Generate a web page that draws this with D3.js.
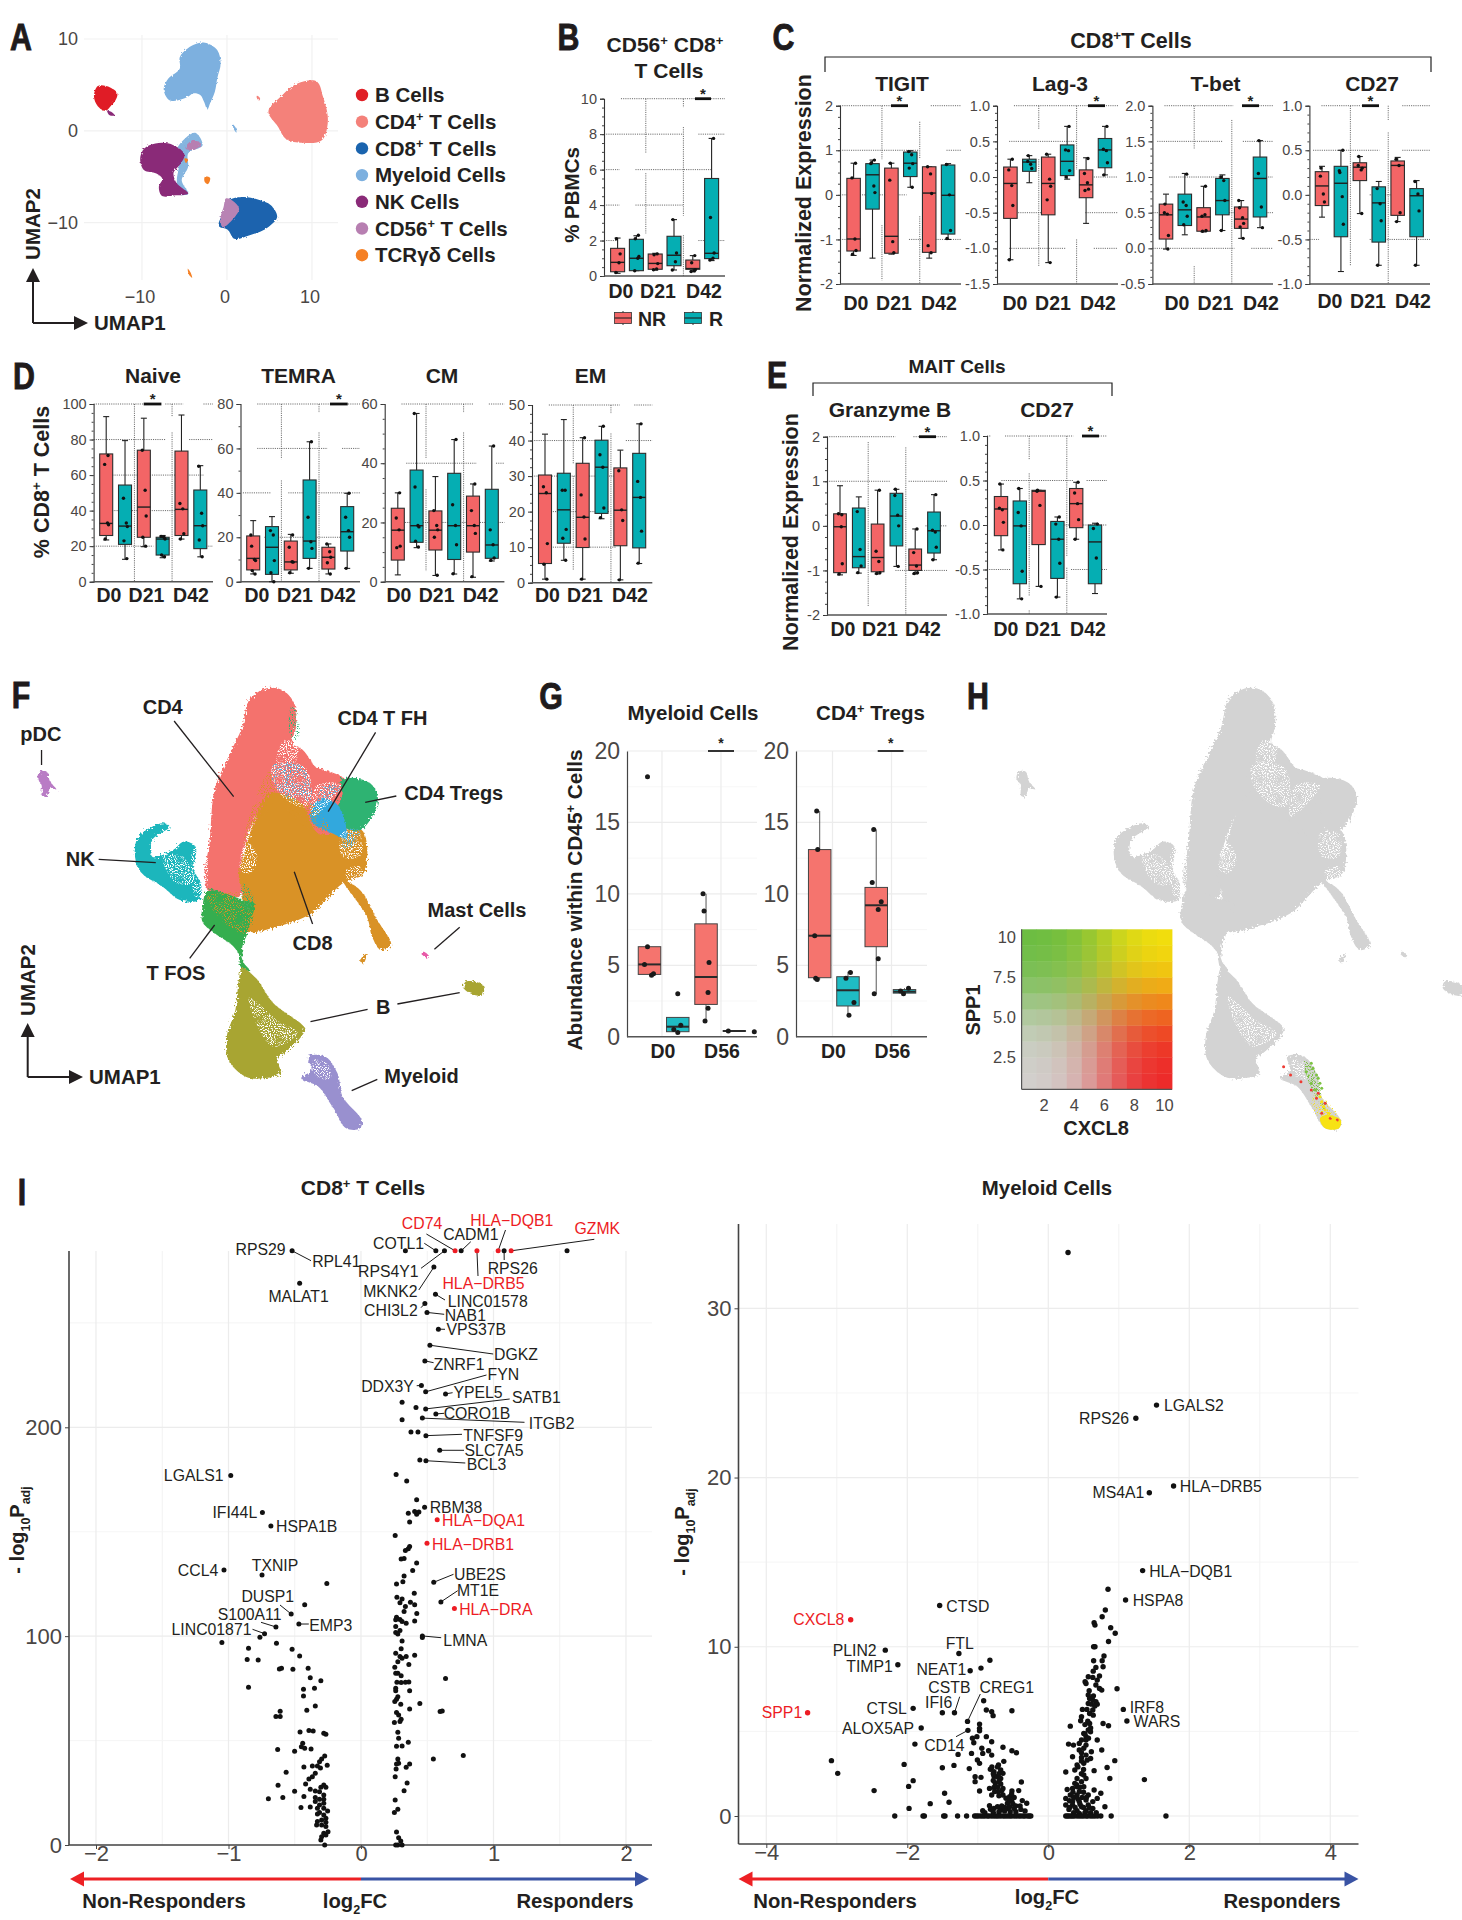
<!DOCTYPE html>
<html><head><meta charset="utf-8">
<script src="https://cdn.jsdelivr.net/npm/d3@7/dist/d3.min.js"></script>
<style>html,body{margin:0;background:#fff}svg{display:block}text{font-family:"Liberation Sans",Arial,sans-serif}</style>
</head><body>
<svg id="fig" width="1462" height="1920" viewBox="0 0 1462 1920"></svg>
<script>
/* ---------- DATA ---------- */
// Box panels: [lowWhisker, q1, median, q3, highWhisker, [points]] for NR/R at D0, D21, D42
const cd56Boxes=[[.15,.24,.77,1.56,2.14,[.2,.75,1.25,2.1]],[.3,.3,1,2.07,2.27,[.3,1,1.1,2.1,2.3]],[.33,.38,.71,1.24,1.28,[.35,.4,.7,1.2,1.25]],[.34,.58,1.17,2.24,3.18,[.34,.8,1.3,3.18]],[.24,.38,.42,.9,1.15,[.25,.3,.35,.75,1.15]],[.87,.98,1.28,5.5,7.76,[.9,1,1.3,3.3,7.76]]];
const tigitBoxes=[[-1.36,-1.26,-.99,.37,.71,[.38,-.99,-1.25,-1.33,.71]],[-1.42,-.32,.45,.7,.78,[.7,.2,.05,.72,.78]],[-1.33,-1.31,-.93,.6,.71,[.33,-1.05,-1.3,.71]],[.17,.41,.71,.96,.99,[.97,.9,.7,.6,.17]],[-1.42,-1.29,.04,.63,.63,[.63,.47,.03,-1.14,-1.3]],[-1,-.88,-.01,.67,.7,[.68,0,-.8,-.98]]];
const lag3Boxes=[[-1.16,-.58,-.09,.14,.25,[.1,-.12,-.4,-1.16,.25]],[-.08,.08,.21,.25,.3,[.22,.18,.12,.3]],[-1.2,-.53,-.09,.28,.32,[.32,-.03,-.13,-.32,-1.2]],[-.03,.02,.22,.45,.71,[.38,.37,.09,0,.71]],[-.65,-.29,-.11,.1,.27,[.05,-.08,-.17,-.19,.26]],[.03,.13,.38,.54,.71,[.39,.37,.2,.03,.71]]];
const tbetBoxes=[[-.01,.13,.47,.62,.76,[.5,.48,.18,.62,-.01]],[.19,.32,.54,.76,1.05,[.65,.6,.45,.33,1.04]],[.23,.24,.44,.57,.87,[.45,.47,.25,.24,.87]],[.25,.47,.67,.98,1.03,[1,.95,.67,.25]],[.14,.28,.41,.58,.67,[.57,.43,.35,.3,.14,.67]],[.29,.44,.98,1.28,1.51,[1.05,.58,.29,1.51]]];
const cd27Boxes=[[-.25,-.12,.1,.26,.32,[.21,.01,-.08,.3]],[-.86,-.47,.13,.32,.5,[.27,-.02,-.33,.25,.5]],[-.21,.16,.31,.36,.43,[.33,.28,.3,.43,-.21]],[-.79,-.53,-.09,.09,.15,[.07,-.1,-.29,-.79]],[-.3,-.23,.33,.38,.42,[.4,.33,-.2,-.3]],[-.79,-.47,-.01,.07,.16,[.15,.01,-.18,-.79]]];
const naiveBoxes=[[23.5,26,32.8,71.9,92.9,[66,33,32,24,71]],[12.6,21,31.3,54.4,79.4,[47,33,31,23,13]],[19.7,25,42,74,92,[74,51.5,37,25,20]],[13.5,15,24,25,26,[25.5,25,24,15,14]],[24,26,40.7,73.5,93.8,[44,41,27,24]],[14,18.6,31.5,51.6,65.3,[65,38.5,31.5,23.5,14]]];
const temraBoxes=[[3.5,5.3,10.5,20.6,27.5,[16,10,9.5,5,3.5,21]],[0,3.3,15.5,24.8,29.3,[23,21,9.5,4,0]],[3.8,5.3,8.9,18.3,21.3,[15.5,9,8.8,4,21]],[6,10.5,18.3,45.8,63,[29,18,15,6,63]],[3.5,5.7,11,15.5,17,[17,13.5,11,8.5,3.5]],[6,13.8,22.5,33.8,39.8,[29,23,20,6,39.8]]];
const cmBoxes=[[2.3,7.3,17.4,24.8,30,[21.5,17.5,12,11.5,30]],[11.5,13.3,18.9,37.7,56.8,[32,19,18.5,13.7,11.7,56.8]],[2.1,10.7,17.4,23.9,35.5,[24,19,17.5,15,2.2]],[2.6,7.5,18.9,36.6,48,[26,19,12.5,2.7,48]],[1.5,10,18.9,28.9,33,[24,19,16.3,1.7,33]],[7,7.9,12.4,31.2,45.8,[17.5,12.5,8,7.2,45.8]]];
const emBoxes=[[1,5.4,25.1,30.3,41.8,[27,25.3,11,5.2,1]],[6.3,11.1,20.5,30.8,45.9,[26,26,15,12.5,6.3]],[1,9.9,18.4,33.6,40.8,[24.7,18.5,12.3,1,40.8]],[18,19.5,32.5,40.1,44,[36,32.5,21,18.3,44]],[.8,10.4,20.4,32.3,37.3,[31.5,20.5,17.5,.8]],[5.4,9.8,24,36.4,44.7,[28.5,24,14.5,5.5,44.7]]];
const gzmbBoxes=[[-1.1,-1.05,-.02,.27,.9,[.27,-.02,-.85,-1.08,.25]],[-1.06,-.94,-.69,.4,.65,[.32,-.53,-.9,-1.05]],[-1.08,-1.03,-.71,.04,.8,[-.57,-.8,-1.05,-1.07,.8]],[-.91,-.45,.22,.73,.82,[.68,.24,0,.82,-.91]],[-1.08,-1,-.88,-.52,-.07,[-.6,-.9,-1.05,-1.07,-.07]],[-.76,-.61,-.11,.31,.7,[-.1,-.14,-.48,-.76,.7]]];
const maitCd27Boxes=[[-.28,-.12,.18,.32,.46,[.19,.17,.03,.46,-.28]],[-.83,-.66,-.01,.27,.41,[.14,-.01,-.52,.41,-.83]],[-.69,-.22,.38,.39,.39,[.38,.22,-.69,.39]],[-.81,-.6,-.16,.04,.09,[.01,-.16,-.43,-.81,.09]],[-.16,-.03,.24,.41,.48,[.36,.24,.06,-.16,.48]],[-.77,-.66,-.19,0,.02,[-.04,-.37,.01]]];
// Panel G: [low, q1, median, q3, high], then points as [value, pixel jitter]
const gMyeloidBoxes=[[4.3,4.36,5.06,6.3,6.3],[.3,.35,.7,1.35,1.35],[1.1,2.26,4.18,7.9,10],[.38,.38,.4,.42,.42]];
const gMyeloidPoints=[[[18.2,-2],[6.3,-2],[5.05,-5],[4.4,4],[4.3,2]],[[3,0],[.8,3],[.5,-4],[.3,0]],[[10,-3],[8.8,-2],[5.2,3],[3.1,2],[2,2],[1.1,-1]],[[.4,-6],[.35,20]]];
const gTregBoxes=[[4,4.13,7.07,13.1,15.8],[1.5,2.15,3.25,4.2,4.55],[3,6.3,9.2,10.45,14.5],[3,3.05,3.15,3.3,3.4]];
const gTregPoints=[[[15.8,-3],[13.1,-2],[7.07,-5],[4.1,-4],[4,-2.5]],[[4.5,2.5],[4.1,-2],[2.4,6],[1.5,1]],[[14.5,-2.5],[10.8,-4],[9.45,5],[8.9,2],[5.45,2],[3,-2]],[[3.4,4],[3.2,-4],[3,-1]]];
// Panel A: cluster outlines in UMAP units
const umapA=[
 ['#f4817a',[[8.3,5.16],[10.6,5.35],[11.3,3.7],[11.85,.8],[11.2,-1],[8.9,-1.3],[6.9,-.85],[6,.44],[4.87,2.07],[6.3,3.7]]],
 ['#7db0df',[[-2.6,9.6],[-1.15,8.8],[-.75,7.35],[-1.15,5.7],[-1.43,4.25],[-2,2.98],[-2.3,2.33],[-2.7,3.16],[-3.15,3.9],[-4,4.07],[-4.6,3.7],[-6.9,3.42],[-7.45,4.6],[-6.9,5.7],[-5.55,6.8],[-5.55,8.05],[-4.6,9]]],
 ['#e01f26',[[-15.2,4.87],[-13.75,4.73],[-12.9,4.07],[-13.2,3.2],[-13.6,2.8],[-14.3,2.18],[-15.2,2.69],[-15.65,3.7]]],
 ['#85b5df',[[-3.72,-.22],[-2.87,-1.56],[-4.58,-2.47],[-4.58,-3.93],[-5.33,-5.38],[-4.58,-6.9],[-5.73,-6.9],[-5.9,-5.38],[-5.73,-3.56],[-6.13,-2.84],[-5.33,-1.2]]],
 ['#8a2a78',[[-8.42,-1.38],[-6.3,-1.56],[-4.99,-2.65],[-5.44,-3.56],[-6.3,-4.65],[-6.02,-5.56],[-4.58,-6.84],[-6.02,-7.02],[-7.74,-7.02],[-8.02,-6.11],[-7.62,-5.2],[-8.31,-4.65],[-9.74,-4.29],[-10.2,-2.84],[-9.74,-1.93]]],
 ['#b77fb1',[[-4,-1],[-3.04,-1.45],[-4,-2.1],[-4.87,-1.93]]],
 ['#1a64ae',[[1.72,-7.2],[3.72,-7.5],[5.16,-8.1],[5.9,-9.38],[4.87,-10.47],[2.58,-11.4],[.86,-11.75],[0,-10.7],[-.86,-10.47],[-.17,-8.47],[.29,-7.56]]],
 ['#b883b4',[[-.17,-7.38],[1.43,-8.47],[.74,-9.56],[-.57,-10.47],[-.74,-9.38],[-.4,-8.3]]],
 ['#f58025',[[-2.6,-5],[-2,-5.1],[-2.3,-5.8],[-2.6,-5.6]]],
 ['#f58025',[[-4.6,-15],[-4.3,-15.4],[-4.1,-16],[-4.5,-15.6]]],
 ['#f58025',[[-5,-3],[-4.6,-3.1],[-4.8,-3.5]]],
 ['#7db0df',[[.7,.7],[1,.4],[1.1,-.2],[.8,.2]]],
 ['#f4817a',[[3.5,3.8],[3.9,3.5],[3.8,3.3],[3.5,3.6]]],
 ['#8a2a78',[[-14.1,2.2],[-13.5,2],[-13.2,1.7],[-13.8,1.7]]]];
const legendA=[['B Cells','#e01f26'],['CD4^{+} T Cells','#f4817a'],['CD8^{+} T Cells','#1a64ae'],['Myeloid Cells','#7db0df'],['NK Cells','#8a2a78'],['CD56^{+} T Cells','#b77fb1'],['TCRγδ Cells','#f58025']];
// Panel F/H: cluster outlines in shared map units
const umapF=[
 ['#f4726d',[[770,55],[815,60],[850,100],[855,170],[845,220],[875,240],[925,305],[1000,340],[1030,340],[950,420],[880,400],[820,330],[780,400],[740,440],[700,560],[700,660],[690,680],[600,660],[590,620],[605,520],[620,360],[660,260],[700,170],[720,90]]],
 ['#f4726d',[[790,280],[900,290],[1010,340],[1010,470],[920,500],[800,420]]],
 ['#d99227',[[780,370],[870,400],[920,490],[1045,480],[1050,610],[990,640],[900,730],[800,770],[715,785],[700,760],[700,660],[690,620],[720,500],[740,440]]],
 ['#d99227',[[990,630],[1040,660],[1090,750],[1130,825],[1100,840],[1075,800],[1060,740]]],
 ['#d99227',[[1060,850],[1050,880],[1040,872]]],
 ['#2db372',[[1030,325],[1075,345],[1092,385],[1075,440],[1040,480],[1000,475],[975,420],[990,370],[985,330]]],
 ['#32a8dd',[[935,385],[980,410],[1000,505],[960,490],[900,455],[900,410]]],
 ['#1bb6bc',[[470,460],[490,470],[440,510],[440,560],[500,540],[530,515],[565,530],[560,600],[580,640],[575,690],[520,690],[470,650],[410,610],[390,560],[400,500]]],
 ['#35ae50',[[600,660],[650,670],[700,690],[735,700],[725,750],[715,790],[700,830],[700,860],[670,825],[620,790],[585,755],[585,710]]],
 ['#35ae50',[[690,840],[705,880],[720,900],[700,900]]],
 ['#a8a532',[[700,895],[740,925],[790,1000],[880,1075],[870,1100],[820,1150],[800,1165],[810,1210],[760,1225],[710,1220],[660,1170],[655,1100],[680,1020],[690,930]]],
 ['#a8a532',[[1345,935],[1395,945],[1395,975],[1370,975],[1340,955]]],
 ['#9990cf',[[890,1160],[940,1160],[975,1210],[990,1280],[1045,1350],[1040,1375],[1000,1375],[960,1310],[920,1250],[870,1225],[900,1200]]],
 ['#b97cc5',[[115,305],[135,305],[145,335],[163,358],[145,355],[135,378],[122,378],[120,345],[108,325]]],
 ['#e85aa8',[[1222,845],[1237,855],[1232,862],[1218,852]]]];
const whitePatches=[[[720,520],[745,570],[720,610],[695,600],[700,540]],[[720,980],[800,1050],[860,1090],[790,1130],[740,1060]],[[470,560],[530,560],[555,640],[510,640]],[[905,1170],[945,1180],[955,1225],[915,1220]],[[790,285],[880,290],[900,370],[885,410],[840,400],[790,340]],[[915,345],[985,345],[950,400],[900,440]],[[985,490],[1040,490],[1040,560],[990,560]],[[820,210],[860,230],[850,280],[800,280]],[[560,530],[590,520],[590,680],[565,680]],[[1000,600],[1040,590],[1040,640],[1010,640]]];
const mixPatches=[
 ['#d99227',[[780,300],[800,370],[740,470],[705,520],[720,440]]],
 ['#d99227',[[810,380],[900,400],[950,480],[880,470]]],
 ['#4ab0df',[[790,285],[870,285],[900,390],[840,390],[790,340]]],
 ['#4ab0df',[[930,350],[985,350],[950,390],[920,400]]],
 ['#2db372',[[840,110],[860,130],[860,210],[840,200]]],
 ['#d99227',[[600,680],[720,680],[715,790],[650,760]]],
 ['#2db372',[[705,640],[735,690],[715,720],[695,690]]],
 ['#4ab0df',[[1000,480],[1040,480],[1020,530],[990,530]]]];
const mapLabels=[['CD4',470,110,'middle',[[503,153],[675,380]]],['CD4 T FH',1105,143,'middle',[[1085,187],[948,425]]],['CD4 Tregs',1168,370,'start',[[1145,378],[1055,397]]],['pDC',118,193,'middle',[[120,240],[120,285]]],['NK',232,567,'middle',[[285,568],[450,578]]],['Mast Cells',1378,720,'middle',[[1328,772],[1255,838]]],['CD8',903,820,'middle',[[850,605],[903,762]]],['T FOS',508,910,'middle',[[620,765],[548,865]]],['B',1107,1012,'middle',[[1062,1018],[897,1055]]],['Myeloid',1110,1218,'start',[[1090,1228],[1016,1262]]]];
const extraMapLine=[[1148,1002],[1328,968]];
// Panel H: regions and cells expressing the markers, in map units
const hGreenPatch=[[940,1170],[975,1210],[990,1280],[1000,1320],[975,1290],[950,1230]];
const hYellowPatch=[[1005,1335],[1045,1350],[1040,1375],[1000,1375],[985,1345]];
const hYellowSpeck=[[975,1270],[1010,1300],[1040,1345],[990,1350],[960,1300]];
const hYellow=[[1020,1340],[1030,1355],[1000,1320],[990,1295],[1010,1330],[1040,1360],[1025,1365],[1005,1350],[985,1280],[995,1310]];
const hGreen=[[960,1180],[975,1215],[985,1240],[965,1195],[980,1225],[990,1255],[972,1260],[960,1240],[1000,1300],[945,1205]];
const hRed=[[1000,1300],[980,1270],[1015,1345],[960,1260],[930,1235],[900,1215],[990,1330],[1035,1350],[880,1190],[975,1285]];
const heatTicksX=[2,4,6,8,10], heatTicksY=[2.5,5,7.5,10];
// Panel I, CD8+ T cells: [log2FC, -log10 Padj]
const cd8Points=[[-.52,284.5],[.335,284.5],[.565,284.5],[.63,284.5],[.756,284.5],[1.08,284.5],[1.555,284.5],[-.463,269],[.55,276.7],[.562,263.7],[.482,259.3],[.498,255],[.584,247],[.52,239.3],[.482,231.8],[.456,220],[.488,217],[.638,216],[.31,212],[.415,209.5],[.488,208.8],[.565,206.4],[.31,203.6],[.463,204.4],[.377,197.8],[.43,197.8],[.49,196],[.594,189],[.444,184.4],[.49,184],[-.983,176.9],[.265,177.4],[.345,174.3],[.42,165.3],[.48,161.7],[.357,158.9],[.405,159.7],[.437,159.4],[.42,158.4],[.367,154.7],[-.744,159.2],[-.68,152.8],[.258,148.2],[.367,142.9],[.335,141],[.357,141.8],[.325,137.2],[.303,136.9],[.42,135],[.39,131.4],[-1.034,131.7],[-.747,129.3],[.325,128.8],[.316,126],[.268,125],[-.258,125.2],[.549,125.8],[.402,120.5],[.271,118.6],[.31,117.8],[.373,116.2],[.405,115],[.603,116.4],[-.425,115],[.294,116],[.335,114.2],[.325,111.8],[-.527,110.6],[.421,110.8],[.268,109],[.294,108],[.262,107.8],[.31,107],[.341,106.2],[.405,107.3],[-.469,105.8],[-.642,104.4],[-.728,101.2],[.262,104.6],[.262,101.7],[.294,102.7],[.278,101],[-.763,99.5],[.463,100.1],[.463,99.3],[-1.05,96.9],[-.638,96.6],[.31,97.7],[-.849,94.2],[-.52,93.7],[.303,94],[.262,91.8],[.294,90.2],[.341,90.2],[.405,90.8],[.278,87.8],[.31,89.4],[-.463,90.5],[-.859,88.8],[-.776,88.6],[.361,86.4],[.255,85.1],[-.616,84.3],[-.6,84.6],[-.514,84.1],[-.399,84.6],[.278,82.2],[.262,82.2],[.303,81],[-.383,80.1],[-.303,78.7],[.638,79.7],[.271,77.9],[.303,77.8],[.335,77.9],[.361,78.1],[-.849,75.5],[-.434,74.6],[-.351,75],[.262,75],[.262,73.9],[.367,73.8],[-.434,71.4],[.278,71],[.268,69.8],[.255,68.7],[.3,67.4],[-.345,66.6],[.444,67.7],[.367,65.1],[-.409,64.5],[.268,63.5],[.284,62.3],[-.61,64],[.597,63.9],[.613,64.2],[-.642,61.5],[-.61,61.5],[.303,60.2],[.294,59.1],[.252,58.6],[-.46,54.1],[-.393,54.8],[-.361,54.6],[-.281,53.5],[-.265,53],[.278,54],[.284,51.1],[.357,49.2],[.31,47.4],[.268,47.3],[-.44,48.7],[-.45,47.1],[-.425,46.3],[-.377,46],[-.629,45.7],[-.501,44.9],[.772,42.8],[.546,41.2],[.278,41.2],[-.274,42.6],[-.297,41.2],[-.313,39.9],[.284,39.1],[.268,38.8],[.367,38.8],[.341,37.2],[-.255,38.2],[-.431,37.4],[-.367,37.8],[-.329,37.8],[-.306,36.9],[.265,36.4],[-.565,34.8],[-.345,34.3],[-.367,32.7],[-.393,31.6],[.258,32.7],[-.418,29.2],[.348,29.7],[-.626,28.6],[-.281,28.7],[-.303,27.6],[-.265,27.6],[-.383,26.7],[-.501,25.7],[.325,26],[-.345,25.9],[-.313,25.5],[-.431,23.2],[-.59,22.7],[-.699,22.2],[-.281,24],[-.345,22.8],[-.313,21.9],[-.281,21.9],[.258,21.6],[-.345,20.8],[-.281,20],[-.313,19.2],[-.453,18],[-.383,18.2],[.278,17.1],[.252,15.6],[-.329,17.6],[-.281,17.6],[-.252,16.3],[-.313,15.6],[-.329,14.9],[-.281,14.4],[-.265,12.8],[-.297,12],[-.329,11.2],[-.265,10.9],[-.335,9.6],[-.297,9.6],[-.265,8.8],[.268,6.2],[-.249,6.4],[-.281,5.6],[-.265,4.8],[-.297,4],[.284,3.5],[.3,1.9],[-.303,2.4],[-.274,0],[.262,0],[.31,0],[.278,0]];
const cd8Red=[[.71,284.5],[.875,284.5],[1.035,284.5],[1.133,284.5],[.575,155.7],[.498,144.5],[.705,113.2]];
// gene, label centre, colour flag, leader start, highlighted point
const cd8Labels=[['RPS29',260.6,1249.3],['RPL41',336.3,1261.7,0,311,1260.7,-.52,284.5],['COTL1',398.5,1243.5,0,424.3,1243.3,.565,284.5],['CD74',422,1223.5,1,426.4,1234,.71,284.5],['CADM1',470.8,1234.3,0,470.8,1241.7,.756,284.5],['HLA−DQB1',511.8,1220,1,505.5,1230,1.035,284.5],['GZMK',597.3,1228.3,1,594.3,1239.3,1.133,284.5],['RPS4Y1',388.3,1271.7,0,421,1268.3,.63,284.5],['RPS26',512.7,1268.3,0,504.2,1260,1.08,284.5],['HLA−DRB5',483.5,1283.3,1,478,1276,.875,284.5],['MALAT1',298.6,1296.7],['MKNK2',390.4,1291.7,0,418.8,1290,.55,276.7],['LINC01578',487.7,1301.7,0,445,1300,.562,263.7],['CHI3L2',390.9,1310,0,421,1307.7,.482,259.3],['NAB1',465.3,1315.7,0,444.2,1314.3,.498,255],['VPS37B',476.3,1329.3,0,445,1329.3,.584,247],['DGKZ',516,1354,0,493.2,1354,.52,239.3],['ZNRF1',459,1364.3,0,433.6,1362.7,.482,231.8],['FYN',503.4,1374.3,0,486.5,1375,.488,217],['DDX3Y',387.5,1386,0,416.7,1385.7,.456,220],['YPEL5',478,1392.3,0,452.6,1392.7,.638,216],['SATB1',536.4,1397.3,0,509.7,1399,.488,208.8],['CORO1B',477,1413.3,0,444.2,1413.3,.565,206.4],['ITGB2',551.6,1423.3,0,524.5,1422.3,.463,204.4],['TNFSF9',493.2,1435,0,462,1434.3,.49,196],['SLC7A5',494,1450.3,0,464,1450.3,.594,189],['BCL3',486.5,1464.3,0,465.3,1463,.49,184],['LGALS1',193.7,1475],['RBM38',456,1507.3],['HLA−DQA1',483.5,1520,1],['IFI44L',234.8,1512.7],['HSPA1B',306.7,1526],['HLA−DRB1',473,1544,1],['CCL4',198,1570],['TXNIP',275,1565],['UBE2S',480,1574.3,0,453.5,1574.3,.549,125.8],['MT1E',478,1590,0,457.7,1590.7,.603,116.4],['HLA−DRA',495.8,1609,1],['DUSP1',267.8,1596.7,0,280,1605,-.527,110.6],['S100A11',249.6,1614.3,0,261,1622.3,-.642,104.4],['EMP3',330.8,1625,0,308.8,1624,-.469,105.8],['LINC01871',211.5,1629,0,252.5,1629.3,-.728,101.2],['LMNA',465.3,1640,0,441.2,1637.7,.463,100.1]];
// Panel I, myeloid cells
const myeloidPoints=[[.28,33.3],[1.535,24.28],[1.242,23.5],[1.777,19.5],[1.433,19.1],[1.338,14.5],[.847,13.4],[1.096,12.76],[-1.541,12.44],[.809,12.17],[.764,11.77],[.65,11.42],[.662,11.28],[.885,11.12],[.949,10.8],[.854,10.31],[.662,10],[.643,10],[-2.312,9.8],[-1.268,9.6],[.79,9.45],[-.828,9.2],[.643,9.17],[.764,9.17],[-2.134,8.94],[-.955,8.74],[.777,8.82],[.675,8.78],[.637,8.56],[-1.108,8.58],[.726,8.27],[.567,8.23],[.631,8.19],[.694,8.03],[.522,7.93],[.535,7.83],[.675,7.74],[.975,7.52],[.726,7.54],[.758,7.44],[.567,7.15],[.586,6.95],[.631,6.85],[.675,6.75],[.567,6.65],[.611,6.61],[.694,6.61],[-.917,6.81],[.484,6.3],[.548,6.3],[.631,6.26],[.586,6.06],[.637,5.96],[.471,5.87],[.459,5.63],[1.064,6.3],[-.879,6.26],[-.803,6.16],[-.783,5.93],[-.516,6.22],[-1.917,6.36],[-1.503,6.1],[-1.331,6.1],[-1.146,5.59],[1.115,5.61],[.586,5.47],[.777,5.47],[.854,5.33],[.312,5.31],[-1.803,5.2],[-.975,5.43],[-.975,5.18],[-.975,5.04],[-1.14,5.06],[.567,5.08],[.599,4.98],[.503,4.88],[.535,4.69],[.471,4.49],[.535,4.49],[.439,4.29],[-1.013,4.69],[-1.076,4.59],[-.879,4.69],[-1.057,4.33],[-.803,4.39],[.694,4.49],[.287,4.25],[.357,4.19],[.535,4.19],[.503,4],[.439,3.9],[-1.892,4.25],[-.643,4.06],[-.943,4],[-.516,3.86],[-.452,3.74],[.758,3.9],[.611,3.8],[.471,3.74],[.535,3.6],[-.847,3.86],[-.803,3.6],[-.93,3.7],[-1.089,3.7],[-1.28,3.64],[.344,3.5],[.471,3.46],[-3.076,3.27],[.943,3.27],[-.631,3.23],[-1.006,3.31],[-.975,3.11],[-2.045,3.05],[-1.338,2.99],[-1.503,2.85],[-.707,3.01],[.408,3.01],[.503,3.11],[.834,2.87],[.376,2.72],[-1.121,2.8],[-.822,2.76],[-.675,2.72],[-.771,2.62],[.65,2.68],[.248,2.6],[-2.987,2.52],[-.771,2.36],[-.643,2.52],[-.726,2.32],[-.675,2.22],[-1.038,2.32],[-.955,2.28],[.503,2.42],[.535,2.22],[.873,2.22],[.408,2.22],[.471,2.03],[.376,1.93],[1.363,2.15],[-1.917,2.09],[-1.981,1.75],[-.382,2.01],[-1.038,2.03],[-.752,1.93],[-.675,1.89],[-.771,1.69],[-.643,1.63],[-.834,1.63],[.408,1.73],[.344,1.63],[.503,1.73],[.65,1.54],[.268,1.57],[-2.471,1.5],[-.975,1.48],[-.707,1.44],[-.516,1.48],[-.42,1.5],[-1.471,1.34],[.745,1.34],[.567,1.24],[.408,1.24],[.312,1.24],[.248,1.04],[-.803,1.24],[-.643,1.24],[-.548,1.14],[-.484,1.1],[-1.408,.81],[-1.675,.73],[-.369,.91],[-.306,.75],[-.516,.85],[-.58,.75],[.694,1.04],[.535,.94],[.631,.85],[.439,.85],[.344,.85],[.248,.65],[.344,.65],[.471,.55],[.567,.65],[-1.975,.45],[-.834,.61],[-.771,.45],[-.58,.45],[-.484,.45],[-.389,.39],[-.93,.31],[-.675,.35],[.803,.55],[.631,.45],[.293,.39],[.408,.31],[.535,.31],
 [-.8,2.9],[-.78,2.5],[-.72,2.9],[-.7,2.5],[-.78,2.1],[-.7,2.05],[-.72,1.7],[-.66,1.5],[-.76,1.45],[-.7,1.2],[-.6,1.05],[-.55,.95],[-.52,1.3],[-.5,.7],[-.46,.6],[-.55,.55],[-.62,.5],[-.72,.55],[-.66,.6],[-.82,.4],[-.7,.25],[-.62,.3],[-.54,.25],[-.46,.25],[-.4,.6],[-.33,.3],[-.78,.2],[-.9,.2],
 [.3,.9],[.36,1.1],[.42,1],[.48,1.1],[.54,1.1],[.3,.5],[.38,.5],[.45,.7],[.5,.5],[.58,.5],[.36,.2],[.44,.15],[.52,.2],[.6,.2],[.68,.2],[.35,1.4],[.44,1.45],[.5,1.4],[.4,1.85],[.45,1.7],[.47,2.5],[.42,2.9],[.5,2.75],[.55,3.3],[.6,3.4],[.47,3.25],[.52,4.85],[.57,4.6],[.56,5.6],[.6,5.2],[.64,7.1],[.58,7.4],[.66,6.5],[.52,5.4]];
const myeloidZeroX=[-2.178,-1.758,-1.777,-1.465,-1.484,-1.287,-1.159,-1.045,-1.02,-.994,-.96,-.93,-.9,-.866,-.84,-.803,-.77,-.739,-.71,-.675,-.64,-.611,-.58,-.548,-.52,-.484,-.45,-.42,-.39,-.357,-.33,-.293,-.27,-.248,.248,.27,.293,.32,.344,.37,.408,.44,.471,.5,.535,.56,.599,.63,.662,.7,.745,.892,1.669];
const myeloidRed=[[-2.803,11.6],[-3.414,6.1]];
const myeloidLabels=[['LGALS2',1193.9,1405],['RPS26',1104,1418.3],['HLA−DRB5',1220.8,1486],['MS4A1',1118.5,1492.3],['HLA−DQB1',1190.7,1571],['HSPA8',1158,1600.7],['CTSD',967.8,1606],['CXCL8',818.8,1619.3,1],['FTL',959.7,1643.3],['PLIN2',854.7,1650],['TIMP1',869.5,1666],['NEAT1',941.3,1669.3],['CSTB',949.4,1687.3],['CREG1',1006.8,1687.3,0,980.3,1694,-1.146,5.59],['IFI6',938.6,1702.7,0,959.7,1696.7,-1.331,6.1],['IRF8',1146.8,1707.7],['WARS',1157,1721.7],['CTSL',886.6,1708.3],['SPP1',782,1712.7,1],['ALOX5AP',878,1728.3],['CD14',944.4,1745,0,956,1736.7,-1.14,5.06]];

/* ---------- HELPERS ---------- */
const svg=d3.select('#fig');
const C={nr:'#f36566',r:'#05aeb3',ink:'#231f20',tick:'#4a4644',gnr:'#f5746e',gr:'#1fbcc4'};
function T(g,x,y,str,o={}){
  const s=o.s||15,el=g.append('text').attr('transform',`translate(${x},${y}) rotate(${o.r||0}) scale(${o.sx||1},1)`)
   .attr('text-anchor',o.a||'middle').attr('font-size',s).attr('font-weight',o.w||'normal').attr('fill',o.f||C.ink);
  const parts=str.split(/(\^\{[^}]*\}|_\{[^}]*\})/).filter(d=>d!=='');
  let base=0,first=true;
  parts.forEach(p=>{
    let txt=p,target=0,size=s;
    if(p[0]==='^'){txt=p.slice(2,-1);target=-s*.36;size=s*.62}
    if(p[0]==='_'){txt=p.slice(2,-1);target=s*.28;size=s*.62}
    const t=el.append('tspan').attr('font-size',size).text(txt);
    if(first){t.attr('y',s*.35+target);t.attr('x',0);first=false}else t.attr('dy',target-base);
    base=target;
  });
  return el;
}
function L(g,x1,y1,x2,y2,w=1.2,c=C.ink){g.append('line').attr('x1',x1).attr('y1',y1).attr('x2',x2).attr('y2',y2).attr('stroke',c).attr('stroke-width',w)}
function letter(x,y,t){T(svg,x,y,t,{s:37,w:'bold',f:'#1f1b1c',sx:.82}).attr('stroke','#1f1b1c').attr('stroke-width',.9)}
function arrowHead(g,x,y,dir,len,half,col){
  const p=dir==='r'?[[x,y],[x-len,y-half],[x-len,y+half]]:dir==='l'?[[x,y],[x+len,y-half],[x+len,y+half]]:[[x,y],[x-half,y+len],[x+half,y+len]];
  g.append('path').attr('d',d3.line()(p)+'Z').attr('fill',col);
}
const defs=svg.append('defs');
function rough(id,scale){
 const f=defs.append('filter').attr('id',id).attr('x','-10%').attr('y','-10%').attr('width','120%').attr('height','120%');
 f.append('feTurbulence').attr('type','fractalNoise').attr('baseFrequency',.5).attr('numOctaves',2).attr('seed',4).attr('result','n');
 f.append('feDisplacementMap').attr('in','SourceGraphic').attr('in2','n').attr('scale',scale);
}
rough('rough',7);rough('roughA',3);
function speck(id,gain,cut,seed){
 const f=defs.append('filter').attr('id',id).attr('x','-10%').attr('y','-10%').attr('width','120%').attr('height','120%');
 f.append('feTurbulence').attr('type','fractalNoise').attr('baseFrequency',.95).attr('numOctaves',1).attr('seed',seed).attr('result','n');
 f.append('feColorMatrix').attr('in','n').attr('type','matrix').attr('values',`0 0 0 0 0 0 0 0 0 0 0 0 0 0 0 ${gain} 0 0 0 ${cut}`).attr('result','m');
 f.append('feComposite').attr('in','SourceGraphic').attr('in2','m').attr('operator','in');
}
speck('speck',9,-4.6,8);speck('speck2',9,-4.9,21);

/* ---------- BOX PANELS ---------- */
function boxPanel(p){
  const g=svg.append('g');
  const y=d3.scaleLinear().domain(p.domain).range([p.y0,p.y1]);
  const x=d3.scaleLinear().domain([0,5]).range([p.c0,p.c5]);
  const bw=p.bw||13.5, W=p.ax1-p.ax, H=p.y0-p.y1;
  const grid=g.append('g').attr('stroke','#5a5a5a').attr('stroke-width',.9).attr('stroke-dasharray','1.1 1.1').attr('fill','none');
  p.hs.forEach(([t,...segs])=>segs.forEach(s=>grid.append('line').attr('x1',p.ax+s[0]*W).attr('x2',p.ax+s[1]*W).attr('y1',y(t)).attr('y2',y(t))));
  [1.5,3.5].forEach((i,k)=>p.vs[k].forEach(s=>grid.append('line').attr('x1',x(i)).attr('x2',x(i)).attr('y1',p.y1+s[0]*H).attr('y2',p.y1+s[1]*H)));
  const fmt=p.fmt||(d=>String(d));
  const ya=g.append('g').attr('transform',`translate(${p.ax},0)`).call(d3.axisLeft(y).tickValues(p.ticks).tickSize(4).tickFormat(d=>fmt(d).replace('−','-')));
  ya.selectAll('text').attr('font-size',14.5).attr('fill',C.tick).attr('font-family','"Liberation Sans"');
  ya.selectAll('line').attr('stroke','#333');ya.select('.domain').attr('stroke','#333').attr('stroke-width',1.1);
  const ym=g.append('g').attr('transform',`translate(${p.ax},0)`).call(d3.axisLeft(y).tickValues(d3.range(p.domain[0],p.domain[1]+1e-6,p.minor)).tickSize(2).tickFormat(''));
  ym.selectAll('line').attr('stroke','#444');ym.select('.domain').remove();
  L(g,p.ax,p.y0,p.ax1,p.y0,1.6,'#555');
  p.data.forEach((b,i)=>{
    const cx=x(i),[lo,q1,med,q3,hi,pts]=b,col=i%2?C.r:C.nr;
    L(g,cx,y(lo),cx,y(hi),1.1,'#222');
    L(g,cx-3,y(lo),cx+3,y(lo),1.1,'#222');L(g,cx-3,y(hi),cx+3,y(hi),1.1,'#222');
    g.append('rect').attr('x',cx-bw/2).attr('width',bw).attr('y',y(q3)).attr('height',y(q1)-y(q3)).attr('fill',col).attr('stroke','#2c2c2c').attr('stroke-width',1.1);
    L(g,cx-bw/2,y(med),cx+bw/2,y(med),1.4,'#1f1f1f');
    const jit=[-.12,.1,.18,-.08,.14,-.18];
    g.selectAll(null).data(pts).enter().append('circle').attr('cx',(d,j)=>cx+jit[j%6]*bw).attr('cy',d=>y(d)).attr('r',1.7).attr('fill','#111');
  });
  if(p.sig){
    const top=y(p.domain[1]);
    L(g,p.sig[0],top,p.sig[1],top,2.8,'#111');
    T(g,(p.sig[0]+p.sig[1])/2,top-5,'*',{s:15,w:'bold'});
  }
  if(p.title)T(g,p.tx,p.ty,p.title,{s:21,w:'bold'});
  const xs=p.xl;['D0','D21','D42'].forEach((t,i)=>T(g,xs[i],p.xly,t,{s:19.5,w:'bold'}));
}
const f1d=d3.format('.1f');
const panels=[
 {title:'',data:cd56Boxes,domain:[0,10],ticks:[0,2,4,6,8,10],minor:.5,ax:604,ax1:725,y0:276,y1:98.7,c0:617.6,c5:711.6,bw:14,sig:[695,711],xl:[621,658,704],xly:291,
  hs:[[10,[.14,1]],[8,[0,.65],[.78,1]],[6,[0,.13],[.26,.89]],[4,[0,.13],[.26,.65]],[2,[0,.1],[.78,1]]],vs:[[[0,.31],[.42,.76]],[[0,.05],[.16,.66],[.77,1]]]},
 {title:'TIGIT',tx:902,ty:84,data:tigitBoxes,domain:[-2,2],ticks:[-2,-1,0,1,2],minor:.25,ax:840,ax1:961,y0:284,y1:105.7,c0:853.6,c5:948.1,sig:[891,908],xl:[856,894,939],xly:303,
  hs:[[2,[0,.43],[.75,1]],[1,[0,.65],[.88,1]],[0,[0,.55]],[-1,[0,.15],[.57,1]]],vs:[[[0,.3],[.67,.98]],[[.09,.3],[.62,1]]]},
 {title:'Lag-3',tx:1060,ty:84,data:lag3Boxes,domain:[-1.5,1],ticks:[-1.5,-1,-.5,0,.5,1],minor:.1,fmt:f1d,ax:997,ax1:1118,y0:284,y1:105.7,c0:1010.4,c5:1105,sig:[1088,1105],xl:[1015,1053,1098],xly:303,
  hs:[[1,[.14,.75],[.9,1]],[.5,[.1,.65]],[0,[.8,1]],[-.5,[.12,.48],[.73,1]],[-1,[.1,.57],[.8,1]]],vs:[[[0,.13],[.3,.9]],[[0,.36],[.75,1]]]},
 {title:'T-bet',tx:1215.5,ty:84,data:tbetBoxes,domain:[-.5,2],ticks:[-.5,0,.5,1,1.5,2],minor:.1,fmt:f1d,ax:1152.4,ax1:1273,y0:284,y1:105.7,c0:1166,c5:1260,sig:[1242,1259],xl:[1177,1215.5,1261],xly:303,
  hs:[[2,[.1,.67],[.88,1]],[1.5,[.04,.58],[.75,1]],[1,[.14,.58],[.85,1]],[.5,[0,.15],[.6,.7],[.9,1]],[0,[0,.68],[.82,1]]],vs:[[[0,.24],[.9,1]],[[.08,1]]]},
 {title:'CD27',tx:1372,ty:84,data:cd27Boxes,domain:[-1,1],ticks:[-1,-.5,0,.5,1],minor:.1,fmt:f1d,ax:1309.4,ax1:1430,y0:284,y1:105.7,c0:1322,c5:1416.6,sig:[1362,1379],xl:[1330,1368,1413],xly:301,
  hs:[[1,[.1,.43],[.77,1]],[.5,[.03,.58],[.77,1]],[0,[.5,.7]],[-.5,[0,.08],[.5,1]]],vs:[[[0,.9]],[[0,.08],[.15,1]]]},
 {title:'Naive',tx:153,ty:376,data:naiveBoxes,domain:[0,100],ticks:[0,20,40,60,80,100],minor:5,ax:93.6,ax1:213,y0:581.7,y1:404,c0:106.2,c5:200.3,bw:13,sig:[143.7,161.4],xl:[109,146.5,191],xly:595,
  hs:[[100,[0,.42],[.6,.75],[.92,1]],[80,[0,.6],[.8,1]],[60,[.12,.92]],[40,[.1,.7]],[20,[0,.5],[.85,1]]],vs:[[[0,1]],[[0,.07],[.16,1]]]},
 {title:'TEMRA',tx:298.5,ty:376,data:temraBoxes,domain:[0,80],ticks:[0,20,40,60,80],minor:10,ax:240.5,ax1:360,y0:581.7,y1:404,c0:253.2,c5:347.2,bw:13,sig:[330,347.7],xl:[257,295,338],xly:595,
  hs:[[80,[.14,.75],[.9,1]],[60,[.14,.73],[.85,1]],[40,[.02,.25],[.4,1]],[20,[.2,.9]]],vs:[[[0,.31],[.43,1]],[[0,.05],[.16,1]]]},
 {title:'CM',tx:442,ty:376,data:cmBoxes,domain:[0,60],ticks:[0,20,40,60],minor:5,ax:384.7,ax1:504.4,y0:581.7,y1:404,c0:397.8,c5:491.8,bw:13,xl:[399,436.6,480.6],xly:595,
  hs:[[60,[.14,.74],[.87,1]],[40,[.18,.77],[.93,1]],[20,[.17,1]]],vs:[[[0,.31],[.48,.94]],[[0,.05],[.16,1]]]},
 {title:'EM',tx:590.5,ty:376,data:emBoxes,domain:[0,50],ticks:[0,10,20,30,40,50],minor:2.5,ax:532,ax1:652.3,y0:582.7,y1:405,c0:545,c5:639.2,bw:13,xl:[547.5,585,630],xly:595,
  hs:[[50,[.14,.73],[.85,1]],[40,[0,.6],[.78,1]],[30,[0,.7]],[20,[.1,.65]],[10,[.1,.7]]],vs:[[[0,.33],[.4,.93]],[[0,.05],[.16,1]]]},
 {title:'Granzyme B',tx:890,ty:410,data:gzmbBoxes,domain:[-2,2],ticks:[-2,-1,0,1,2],minor:.25,ax:827,ax1:947,y0:615,y1:436.7,c0:840,c5:934,bw:12.7,sig:[919,936],xl:[843,880,923],xly:629,
  hs:[[2,[0,.57],[.72,1]],[1,[0,.53],[.68,1]],[0,[.82,1]],[-1,[.57,1]]],vs:[[[.03,.95]],[[.06,1]]]},
 {title:'CD27',tx:1047,ty:410,data:maitCd27Boxes,domain:[-1,1],ticks:[-1,-.5,0,.5,1],minor:.1,fmt:f1d,ax:987,ax1:1107,y0:614,y1:436,c0:1001,c5:1095,bw:13.3,sig:[1082,1099],xl:[1006,1043,1088],xly:629,
  hs:[[1,[0,.03],[.15,.72],[.82,1]],[.5,[.12,.72],[.83,1]],[0,[.6,1]],[-.5,[0,.2],[.7,1]]],vs:[[[0,.13],[.21,.9],[.98,1]],[[0,.68],[.74,1]]]}];
panels.forEach(boxPanel);

/* ---------- PANEL A ---------- */
(function(){
 const g=svg.append('g');
 const x=d3.scaleLinear().domain([-10,10]).range([142,312]), y=d3.scaleLinear().domain([-10,10]).range([222.7,39]);
 [-10,0,10].forEach(v=>{L(g,84,y(v),338,y(v),1.2,'#f1f1f1');L(g,x(v),35,x(v),280,1.2,'#f1f1f1')});
 const lineA=d3.line().curve(d3.curveCatmullRomClosed.alpha(1)).x(d=>x(d[0])).y(d=>y(d[1]));
 const body=g.append('g').attr('filter','url(#roughA)');
 umapA.forEach(([c,pts])=>body.append('path').attr('d',lineA(pts)).attr('fill',c));
 [-10,0,10].forEach(v=>{
   T(g,x(v)-2,297,(v<0?'−':'')+Math.abs(v),{s:18,f:C.tick});
   T(g,78,y(v),(v<0?'−':'')+Math.abs(v),{s:18,a:'end',f:C.tick});
 });
 legendA.forEach((d,i)=>{
   const ly=95+i*26.7;
   g.append('circle').attr('cx',362).attr('cy',ly).attr('r',6.2).attr('fill',d[1]);
   T(g,375,ly,d[0],{s:20.5,w:'bold',a:'start'});
 });
 L(g,33,323,33,280,2);L(g,33,323,78,323,2);
 arrowHead(g,33,268,'u',14,7,C.ink);arrowHead(g,88,323,'r',14,7,C.ink);
 T(g,94,323,'UMAP1',{s:20.5,w:'bold',a:'start'});T(g,33,224,'UMAP2',{s:20.5,w:'bold',r:-90});
 letter(21,37,'A');
})();

/* ---------- PANEL B text ---------- */
(function(){
 const g=svg.append('g');
 letter(568.5,37,'B');
 T(g,665,45,'CD56^{+}  CD8^{+}',{s:21,w:'bold'});T(g,669,71,'T Cells',{s:21,w:'bold'});
 T(g,572,195,'% PBMCs',{s:20.5,w:'bold',r:-90});
 [[623,C.nr,'NR',638],[693,C.r,'R',709]].forEach(([cx,c,t,tx])=>{
   L(g,cx,311,cx,325,1,'#333');
   g.append('rect').attr('x',cx-8.5).attr('y',312.5).attr('width',17).attr('height',11).attr('fill',c).attr('stroke','#333').attr('stroke-width',.8);
   L(g,cx-8.5,318,cx+8.5,318,1.1,'#222');
   T(g,tx,319,t,{s:19.5,w:'bold',a:'start'});
 });
})();

/* ---------- C, D, E headers ---------- */
(function(){
 const g=svg.append('g');
 letter(783.4,37,'C');letter(24,376,'D');letter(777,375,'E');
 T(g,1131,40,'CD8^{+}T Cells',{s:21.5,w:'bold'});
 g.append('path').attr('d',d3.line()([[825,72],[825,57],[1431,57],[1431,72]])).attr('fill','none').attr('stroke','#222').attr('stroke-width',1.2);
 T(g,803,193,'Normalized Expression',{s:21.5,w:'bold',r:-90});
 T(g,41,482,'% CD8^{+} T Cells',{s:21.5,w:'bold',r:-90});
 T(g,957,366,'MAIT Cells',{s:19,w:'bold'});
 g.append('path').attr('d',d3.line()([[813,396],[813,383],[1112,383],[1112,396]])).attr('fill','none').attr('stroke','#222').attr('stroke-width',1.2);
 T(g,790,532,'Normalized Expression',{s:21.5,w:'bold',r:-90});
})();

/* ---------- PANELS F, H ---------- */
function clusterMap(offset,grey){
 const g=svg.append('g');
 const x=d3.scaleLinear().domain([0,1560]).range([offset,offset+540]), y=d3.scaleLinear().domain([0,1410]).range([670,1140]);
 const lineF=d3.line().curve(d3.curveCatmullRomClosed.alpha(.5)).x(d=>x(d[0])).y(d=>y(d[1]));
 const body=g.append('g').attr('filter','url(#rough)');
 umapF.forEach(([c,pts])=>body.append('path').attr('d',lineF(pts)).attr('fill',grey?'#d3d3d3':c));
 whitePatches.forEach(pts=>g.append('path').attr('d',lineF(pts)).attr('fill','#fff').attr('filter','url(#speck)'));
 if(!grey)mixPatches.forEach(([c,pts])=>g.append('path').attr('d',lineF(pts)).attr('fill',c).attr('filter','url(#speck2)'));
 return {g,x,y,lineF};
}
(function(){
 const {g,x,y}=clusterMap(0,false);
 mapLabels.forEach(([t,lx,ly,a,l])=>{
   T(g,x(lx),y(ly),t,{s:20,w:'bold',a});
   L(g,x(l[0][0]),y(l[0][1]),x(l[1][0]),y(l[1][1]),1.3);
 });
 L(g,x(extraMapLine[0][0]),y(extraMapLine[0][1]),x(extraMapLine[1][0]),y(extraMapLine[1][1]),1.3);
 L(g,27.7,1077,27.7,1035,2);L(g,27.7,1077,72,1077,2);
 arrowHead(g,27.7,1023,'u',14,7,C.ink);arrowHead(g,83,1077,'r',14,7,C.ink);
 T(g,89,1077,'UMAP1',{s:20.5,w:'bold',a:'start'});T(g,28,980,'UMAP2',{s:20.5,w:'bold',r:-90});
 letter(21,695,'F');
})();
(function(){
 const {g,x,y,lineF}=clusterMap(979,true);
 g.append('path').attr('d',lineF(hGreenPatch)).attr('fill','#7cc242').attr('filter','url(#speck)');
 g.append('path').attr('d',lineF(hYellowSpeck)).attr('fill','#f7e214').attr('filter','url(#speck2)');
 g.append('path').attr('d',lineF(hYellowPatch)).attr('fill','#f7e214');
 [[hGreen,'#7cc242'],[hRed,'#ee3b33'],[hYellow,'#f7e214']].forEach(([pts,c])=>{
   g.selectAll(null).data(pts).enter().append('circle').attr('cx',d=>x(d[0])).attr('cy',d=>y(d[1])).attr('r',1.5).attr('fill',c);
 });
 letter(978,696,'H');
 const hx=d3.scaleLinear().domain([.5,10.5]).range([1021.6,1172]), hy=d3.scaleLinear().domain([.5,10.5]).range([1089.3,929.3]);
 const s=t=>1/(1+Math.exp(-7*(t-.55)));
 const lo=d3.interpolateRgb('#d3d3d3','#ee2024'), hi=d3.interpolateRgb('#66bb3d','#f7e70a');
 d3.range(1,11).forEach(i=>d3.range(1,11).forEach(j=>{
   const tx=s((i-1)/9),ty=s((j-1)/9);
   g.append('rect').attr('x',hx(i-.5)).attr('y',hy(j+.5)).attr('width',hx(i+.5)-hx(i-.5)+.4).attr('height',hy(j-.5)-hy(j+.5)+.4).attr('fill',d3.interpolateRgb(lo(tx),hi(tx))(ty));
 }));
 L(g,1021.6,929.3,1021.6,1089.3,1.2,'#555');L(g,1021.6,1089.3,1172,1089.3,1.2,'#555');
 heatTicksX.forEach(v=>T(g,hx(v),1105,String(v),{s:16.5,f:C.tick}));
 heatTicksY.forEach(v=>T(g,1016,hy(v),v===10?'10':v.toFixed(1),{s:16.5,a:'end',f:C.tick}));
 T(g,973,1010,'SPP1',{s:20,w:'bold',r:-90});T(g,1096,1128,'CXCL8',{s:20,w:'bold'});
})();

/* ---------- PANEL G ---------- */
function gPanel(p){
 const g=svg.append('g');
 const y=d3.scaleLinear().domain([0,20]).range([1036.7,751]);
 const x=d3.scaleLinear().domain([0,3]).range([p.c0,p.c3]);
 d3.range(0,20.1,2.5).forEach(v=>L(g,p.ax,y(v),p.ax1,y(v),v%5?.8:1.2,v%5?'#f5f5f5':'#ececec'));
 [p.m0,p.m1].forEach(m=>L(g,m,751,m,1036.7,1.2,'#ececec'));
 const ya=g.append('g').attr('transform',`translate(${p.ax},0)`).call(d3.axisLeft(y).tickValues([0,5,10,15,20]).tickSize(0));
 ya.selectAll('text').attr('font-size',23).attr('fill',C.tick).attr('dx',-4).attr('font-family','"Liberation Sans"');
 ya.select('.domain').attr('stroke','#444').attr('stroke-width',1.2);
 L(g,p.ax,1036.7,p.ax1,1036.7,1.6,'#555');
 p.boxes.forEach((b,i)=>{
   const cx=x(i),[lo,q1,med,q3,hi]=b,w=22.5;
   L(g,cx,y(lo),cx,y(hi),.9,'#444');
   g.append('rect').attr('x',cx-w/2).attr('width',w).attr('y',y(q3)).attr('height',y(q1)-y(q3)).attr('fill',i%2?C.gr:C.gnr).attr('stroke','#444').attr('stroke-width',1);
   L(g,cx-w/2,y(med),cx+w/2,y(med),2,'#2a2a2a');
   g.selectAll(null).data(p.pts[i]).enter().append('circle').attr('cx',d=>cx+d[1]).attr('cy',d=>y(d[0])).attr('r',2.5).attr('fill','#1a1a1a');
 });
 L(g,p.sig[0],751,p.sig[1],751,2,'#333');T(g,(p.sig[0]+p.sig[1])/2,743,'*',{s:14,w:'bold'});
 T(g,p.m0+1,1051,'D0',{s:19.5,w:'bold'});T(g,p.m1+1,1051,'D56',{s:19.5,w:'bold'});
 T(g,p.tx,713,p.title,{s:20.5,w:'bold'});
}
gPanel({title:'Myeloid Cells',tx:693,boxes:gMyeloidBoxes,pts:gMyeloidPoints,ax:627,ax1:757,c0:649.5,c3:734.3,m0:662,m1:721,sig:[708,734]});
gPanel({title:'CD4^{+} Tregs',tx:870.5,boxes:gTregBoxes,pts:gTregPoints,ax:796,ax1:927,c0:819.7,c3:904.5,m0:832.5,m1:891.5,sig:[877.7,903.5]});
letter(551,696,'G');
T(svg,575,900,'Abundance within CD45^{+} Cells',{s:20.8,w:'bold',r:-90});

/* ---------- PANEL I ---------- */
function volcano(p){
 const g=svg.append('g');
 const x=d3.scaleLinear().domain(p.xd).range(p.xr), y=d3.scaleLinear().domain(p.yd).range(p.yr);
 p.xMinor.forEach(v=>L(g,x(v),p.top,x(v),p.bottom,1,'#f2f2f2'));
 p.yMinor.forEach(v=>L(g,p.left,y(v),p.right,y(v),.9,'#f4f4f4'));
 p.xMajor.forEach(v=>L(g,x(v),p.top,x(v),p.bottom,1.2,'#ececec'));
 p.yMajor.forEach(v=>L(g,p.left,y(v),p.right,y(v),1.2,'#ececec'));
 const xa=g.append('g').attr('transform',`translate(0,${p.bottom})`).call(d3.axisBottom(x).tickValues(p.xMajor).tickSize(4).tickFormat(d=>d<0?'−'+(-d):d));
 xa.select('.domain').remove();xa.selectAll('line').attr('stroke','#444');
 xa.selectAll('text').attr('font-size',22).attr('fill',C.tick).attr('dy',9).attr('font-family','"Liberation Sans"');
 const ya=g.append('g').attr('transform',`translate(${p.left},0)`).call(d3.axisLeft(y).tickValues(p.yMajor).tickSize(4));
 ya.select('.domain').remove();ya.selectAll('line').attr('stroke','#444');
 ya.selectAll('text').attr('font-size',22).attr('fill',C.tick).attr('font-family','"Liberation Sans"');
 L(g,p.left,p.top,p.left,p.bottom,1.6,'#444');L(g,p.left,p.bottom,p.right,p.bottom,1.6,'#444');
 p.labels.forEach(l=>{if(l[4]!==undefined&&l[6]!==undefined)L(g,l[4],l[5],x(l[6]),y(l[7]),1,'#1a1a1a')});
 g.selectAll(null).data(p.points).enter().append('circle').attr('cx',d=>x(d[0])).attr('cy',d=>y(d[1])).attr('r',p.r).attr('fill','#111');
 g.selectAll(null).data(p.red).enter().append('circle').attr('cx',d=>x(d[0])).attr('cy',d=>y(d[1])).attr('r',p.r).attr('fill','#ed1c24');
 p.labels.forEach(l=>T(g,l[1],l[2],l[0],{s:15.8,f:l[3]?'#ed1c24':'#231f20'}));
 const ay=1879,x0=x(0);
 L(g,x0,ay,p.arrL+12,ay,3,'#ed2024');L(g,x0,ay,p.arrR-12,ay,3,'#3953a4');
 arrowHead(g,p.arrL,ay,'l',14,7.5,'#ed2024');arrowHead(g,p.arrR,ay,'r',14,7.5,'#3953a4');
 T(g,p.nrx,1901,'Non-Responders',{s:20.3,w:'bold'});T(g,p.rx,1901,'Responders',{s:20.3,w:'bold'});
 T(g,p.fcx,p.fcy,'log_{2}FC',{s:20.3,w:'bold'});
 T(g,p.tx,1188,p.title,{s:p.ts,w:'bold'});
 T(g,p.ylx,p.yly,'- log_{10}P_{adj}',{s:20,w:'bold',r:-90});
}
volcano({title:'CD8^{+} T Cells',ts:21,tx:363,xd:[-2,2],xr:[96,626],yd:[0,200],yr:[1845,1427.3],left:69,right:652,top:1251,bottom:1845,
 xMajor:[-2,-1,0,1,2],xMinor:[-1.5,-.5,.5,1.5],yMajor:[0,100,200],yMinor:[50,150,250],points:cd8Points,red:cd8Red,labels:cd8Labels,r:2.5,
 arrL:70,arrR:649,nrx:164,rx:575,fcx:355,fcy:1901,ylx:17,yly:1530});
volcano({title:'Myeloid Cells',ts:20.4,tx:1047,xd:[-4,4],xr:[766.3,1330.3],yd:[0,30],yr:[1816,1308.3],left:738.5,right:1358.5,top:1224,bottom:1844,
 xMajor:[-4,-2,0,2,4],xMinor:[-3,-1,1,3],yMajor:[0,10,20,30],yMinor:[5,15,25],points:myeloidPoints.concat(myeloidZeroX.map(v=>[v,0])),red:myeloidRed,labels:myeloidLabels,r:2.7,
 arrL:738.5,arrR:1358.5,nrx:835,rx:1282,fcx:1047,fcy:1897,ylx:682,yly:1532});
letter(22,1192,'I');
</script>
</body></html>
